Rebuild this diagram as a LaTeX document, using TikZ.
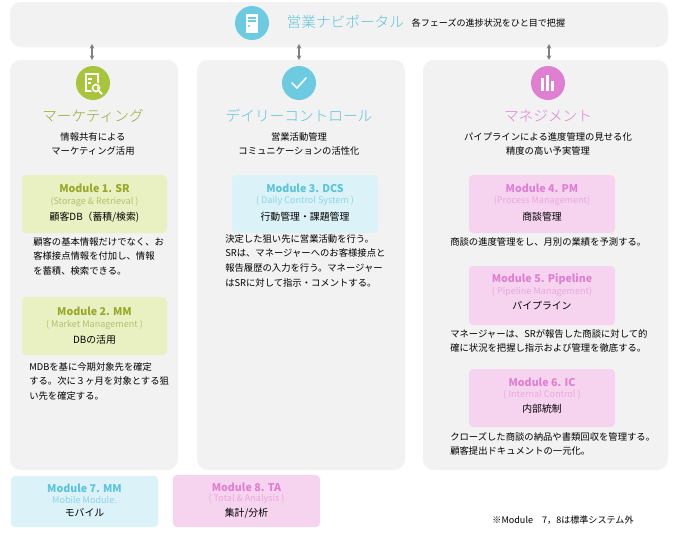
\documentclass[tikz,border=0pt]{standalone}
\usepackage{fontspec}
\usetikzlibrary{arrows.meta}
\setmainfont{Noto Sans CJK JP}
\newfontfamily\jplight{Noto Sans CJK JP Light}
\begin{document}
\begin{tikzpicture}[x=0.75pt,y=-0.75pt,
  panel/.style={fill=panelgray,rounded corners=8pt,draw=none},
  mbox/.style={rounded corners=3pt,draw=none},
  ic/.style={circle,minimum size=34pt*0.75,inner sep=0pt},
  ttl/.style={font=\fontsize{11}{12}\selectfont\jplight},
  sub/.style={font=\fontsize{7}{10.5}\selectfont,align=center},
  desc/.style={font=\fontsize{7}{11}\selectfont,align=left,anchor=north west,inner sep=0pt},
  mt/.style={font=\fontsize{8}{9}\selectfont\bfseries},
  ms/.style={font=\fontsize{6.8}{8}\selectfont},
  mj/.style={font=\fontsize{7.4}{8}\selectfont},
  arr/.style={{Stealth[length=3.5pt,width=3.5pt]}-{Stealth[length=3.5pt,width=3.5pt]},gray,line width=1pt}]
\definecolor{panelgray}{HTML}{F2F2F2}
\definecolor{cgreen}{HTML}{A8C43A}\definecolor{tgreen}{HTML}{98A82A}\definecolor{sgreen}{HTML}{B5BE70}\definecolor{fgreen}{HTML}{E9F1C2}
\definecolor{cblue}{HTML}{6CCBE0}\definecolor{tblue}{HTML}{5BC3DC}\definecolor{sblue}{HTML}{8ED4E6}\definecolor{fblue}{HTML}{DBF2F8}
\definecolor{cpink}{HTML}{E07FD2}\definecolor{tpink}{HTML}{E07FD0}\definecolor{spink}{HTML}{EBA6E0}\definecolor{fpink}{HTML}{F6D4F0}
\useasboundingbox (0,0) rectangle (678,533);
\fill[white] (0,0) rectangle (678,533);
% panels
\fill[panel] (10,2) rectangle (668,47);
\fill[panel] (10,60) rectangle (178,470);
\fill[panel] (197,60) rectangle (405,470);
\fill[panel] (423,60) rectangle (668,470);
% top
\node[ic,fill=cblue] (ptop) at (252,23) {};
\fill[white] (246,14) rectangle (258,33);
\fill[cblue] (248,17) rectangle (256,18.5);\fill[cblue] (248,20) rectangle (256,21.5);\fill[cblue] (249,26) circle (1.2);
\node[ttl,text=tblue,anchor=west] (ptitle) at (282,22) {営業ナビポータル};
\node[font=\fontsize{6.8}{8}\selectfont,anchor=west] (pnote) at (407,23) {各フェーズの進捗状況をひと目で把握};
% icons
\node[ic,fill=cgreen] (i1) at (93,83) {};
\node[ic,fill=cblue] (i2) at (299,83) {};
\node[ic,fill=cpink] (i3) at (548,83) {};
\coordinate (a1) at (92,44);\coordinate (a2) at (299,44);\coordinate (a3) at (549,44);
\coordinate (b1) at (92,60);\coordinate (b2) at (299,60);\coordinate (b3) at (549,60);
\draw[arr] (a1) -- (b1);
\draw[arr] (a2) -- (b2);
\draw[arr] (a3) -- (b3);
% icon glyphs
\draw[white,line width=1.2pt,line cap=round,line join=round] (292,83) -- (297,88) -- (306,78);
\fill[white] (541,78) rectangle (544,91);\fill[white] (546,75) rectangle (549,91);\fill[white] (551,81) rectangle (554,91);
\draw[white,line width=1pt] (86,74) rectangle (98,91);
\fill[white] (88,78) rectangle (92,79.5);\fill[white] (88,82) rectangle (91,83.5);
\draw[cgreen,line width=2.4pt] (96,88) circle (4);
\draw[white,line width=1.2pt] (96,88) circle (3.5);
\draw[white,line width=1.5pt] (99,91) -- (102,94);
% column titles
\node[ttl,text=tgreen] (t1) at (93,116) {マーケティング};
\node[ttl,text=tblue] (t2) at (299,116) {デイリーコントロール};
\node[ttl,text=tpink] (t3) at (548,116) {マネジメント};
\node[sub] (s1) at (93,144) {情報共有による\\マーケティング活用};
\node[sub] (s2) at (299,144) {営業活動管理\\コミュニケーションの活性化};
\node[sub] (s3) at (548,144) {パイプラインによる進度管理の見せる化\\精度の高い予実管理};
% modules
\fill[mbox,fgreen] (22,175) rectangle (167,233);
\node[mt,text=tgreen] (m1) at (94.5,188) {Module 1. SR};
\node[ms,text=sgreen] (m1s) at (94.5,202) {(Storage \& Retrieval )};
\node[mj] (m1j) at (94.5,217) {顧客DB（蓄積/検索)};
\node[desc] (d1) at (33,237) {顧客の基本情報だけでなく、お\\客様接点情報を付加し、情報\\を蓄積、検索できる。};
\fill[mbox,fgreen] (22,297) rectangle (167,355);
\node[mt,text=tgreen] (m2) at (94.5,311) {Module 2. MM};
\node[ms,text=sgreen] (m2s) at (94.5,325) {( Market Management )};
\node[mj] (m2j) at (94.5,340) {DBの活用};
\node[desc] (d2) at (29,362) {MDBを基に今期対象先を確定\\する。次に３ヶ月を対象とする狙\\い先を確定する。};
\fill[mbox,fblue] (232,175) rectangle (378,233);
\node[mt,text=tblue] (m3) at (305,188) {Module 3. DCS};
\node[ms,text=sblue] (m3s) at (305,201) {( Daily Control System )};
\node[mj] (m3j) at (305,217) {行動管理・課題管理};
\node[desc] (d3) at (225,234) {決定した狙い先に営業活動を行う。\\SRは、マネージャーへのお客様接点と\\報告履歴の入力を行う。マネージャー\\はSRに対して指示・コメントする。};
\fill[mbox,fpink] (469,175) rectangle (615,233);
\node[mt,text=tpink] (m4) at (542,188) {Module 4. PM};
\node[ms,text=spink] (m4s) at (542,201) {(Process Management)};
\node[mj] (m4j) at (542,217) {商談管理};
\node[desc] (d4) at (450,237) {商談の進度管理をし、月別の業績を予測する。};
\fill[mbox,fpink] (469,266) rectangle (615,325);
\node[mt,text=tpink] (m5) at (542,279) {Module 5. Pipeline};
\node[ms,text=spink] (m5s) at (542,292) {( Pipeline Management)};
\node[mj] (m5j) at (542,306) {パイプライン};
\node[desc] (d5) at (450,329) {マネージャーは、SRが報告した商談に対して的\\確に状況を把握し指示および管理を徹底する。};
\fill[mbox,fpink] (469,369) rectangle (615,427);
\node[mt,text=tpink] (m6) at (542,382) {Module 6. IC};
\node[ms,text=spink] (m6s) at (542,395) {( Internal Control )};
\node[mj] (m6j) at (542,409) {内部統制};
\node[desc] (d6) at (450,432) {クローズした商談の納品や書類回収を管理する。\\顧客提出ドキュメントの一元化。};
\fill[mbox,fblue] (11,476) rectangle (158,527);
\node[mt,text=tblue] (m7) at (84.5,488) {Module 7. MM};
\node[ms,text=sblue] (m7s) at (84.5,500) {Mobile Module.};
\node[mj] (m7j) at (84.5,513) {モバイル};
\fill[mbox,fpink] (173,475) rectangle (320,527);
\node[mt,text=tpink] (m8) at (246.5,487) {Module 8. TA};
\node[ms,text=spink] (m8s) at (246.5,499) {( Total \& Analysis )};
\node[mj] (m8j) at (246.5,513) {集計/分析};
\node[font=\fontsize{6.8}{8}\selectfont] (note) at (563,520) {※Module　7，8は標準システム外};
\end{tikzpicture}
\end{document}
